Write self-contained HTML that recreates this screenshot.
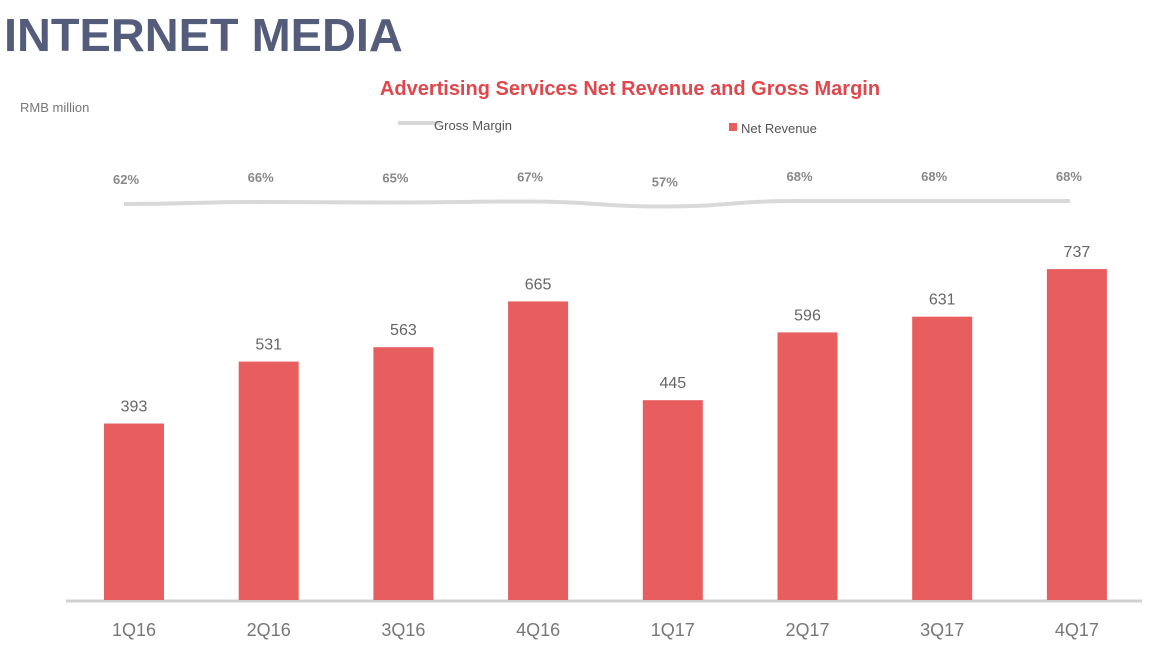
<!DOCTYPE html>
<html><head><meta charset="utf-8">
<style>
body{margin:0;background:#fff;width:1170px;height:660px;overflow:hidden;font-family:"Liberation Sans",sans-serif;}
svg{display:block}
</style></head>
<body>
<svg width="1170" height="660" id="c">
<text x="4" y="51" font-size="46" font-weight="bold" fill="#535c7a" transform="translate(4,0) scale(1.02,1) translate(-4,0)">INTERNET MEDIA</text>
<text x="630" y="95" text-anchor="middle" font-size="20" font-weight="bold" fill="#e0474c">Advertising Services Net Revenue and Gross Margin</text>
<text x="20" y="112" font-size="13" fill="#777">RMB million</text>
<g>
<line x1="398" y1="123" x2="440" y2="123" stroke="#d9d9d9" stroke-width="4"/>
<text x="434" y="130" font-size="13" fill="#555">Gross Margin</text></g>
<g>
<rect x="729" y="123" width="8" height="8" fill="#e85d5e"/>
<text x="741" y="133" font-size="13" fill="#555">Net Revenue</text></g>
<line x1="66" y1="601" x2="1142" y2="601" stroke="#d0d0d0" stroke-width="3"/>
</svg>
<script>
const categories=["1Q16","2Q16","3Q16","4Q16","1Q17","2Q17","3Q17","4Q17"];
const revenue=[393,531,563,665,445,596,631,737];
const margin=[62,66,65,67,57,68,68,68];
const svg=document.getElementById('c');
const NS='http://www.w3.org/2000/svg';
const x=i=>134+i*134.7;
const y=v=>600-v*0.449;
const my=v=>235-v*0.5;
function mk(t,a){const e=document.createElementNS(NS,t);for(const k in a)e.setAttribute(k,a[k]);svg.appendChild(e);return e;}
categories.forEach((c,i)=>{
 const r=mk('rect',{x:x(i)-30,y:y(revenue[i]),width:60,height:600-y(revenue[i]),fill:'#e85d5e'});
 
 
 const t=mk('text',{x:x(i),y:y(revenue[i])-12,'text-anchor':'middle','font-size':16,fill:'#666'});t.textContent=revenue[i];
 
 
 const l=mk('text',{x:x(i),y:636,'text-anchor':'middle','font-size':18,fill:'#777'});l.textContent=c;
 
 
 const m=mk('text',{x:x(i)-8,y:my(margin[i])-20,'text-anchor':'middle','font-size':13,'font-weight':'bold',fill:'#888'});m.textContent=margin[i]+'%';
 
 
});
let d='M'+(x(0)-10)+','+my(margin[0]);
for(let i=1;i<categories.length;i++){const x0=x(i-1)-10,x1=(i==categories.length-1)?x(i)-7:x(i)-10;const cx=(x0+x1)/2;d+=` C${cx},${my(margin[i-1])} ${cx},${my(margin[i])} ${x1},${my(margin[i])}`;}
const p=mk('path',{d:d,fill:'none',stroke:'#d9d9d9','stroke-width':4});


</script>
</body></html>
